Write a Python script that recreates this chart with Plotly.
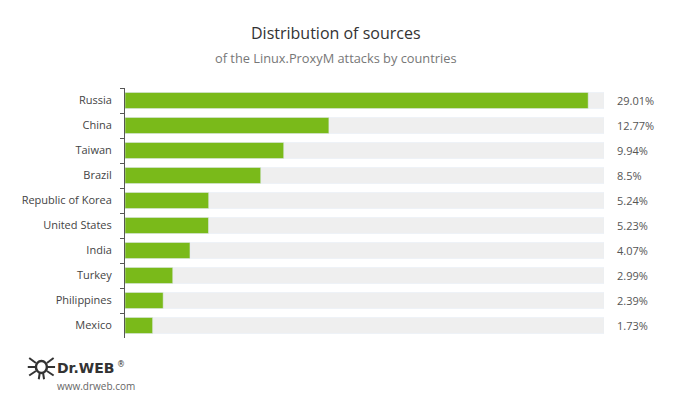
import plotly.graph_objects as go

countries = ["Russia", "China", "Taiwan", "Brazil", "Republic of Korea",
             "United States", "India", "Turkey", "Philippines", "Mexico"]
shares = [29.01, 12.77, 9.94, 8.5, 5.24, 5.23, 4.07, 2.99, 2.39, 1.73]
share_labels = ["29.01%", "12.77%", "9.94%", "8.5%", "5.24%",
                "5.23%", "4.07%", "2.99%", "2.39%", "1.73%"]
full_scale = 30

GREEN = '#7aba1a'
TRACK = '#efefef'
FONT = "Open Sans"
DARK = '#333333'

fig = go.Figure()

# grey track behind every bar
fig.add_trace(go.Bar(
    y=countries,
    x=[full_scale] * len(countries),
    orientation='h',
    marker_color=TRACK,
    width=0.64,
    hoverinfo='skip',
    showlegend=False
))

# the actual shares
fig.add_trace(go.Bar(
    y=countries,
    x=shares,
    orientation='h',
    marker_color=GREEN,
    width=0.64,
    showlegend=False
))

annots = []
# value labels right of the tracks
for c, lab in zip(countries, share_labels):
    annots.append(dict(
        x=full_scale, y=c, xref='x', yref='y',
        text=lab, showarrow=False,
        xanchor='left', xshift=11,
        font=dict(family=FONT, size=11, color='#555555')
    ))

# title + subtitle
annots.append(dict(
    x=0.441, y=1.22, xref='paper', yref='paper',
    text="Distribution of sources", showarrow=False,
    xanchor='center', yanchor='middle',
    font=dict(family=FONT, size=16, color=DARK)
))
annots.append(dict(
    x=0.441, y=1.12, xref='paper', yref='paper',
    text="of the Linux.ProxyM attacks by countries", showarrow=False,
    xanchor='center', yanchor='middle',
    font=dict(family=FONT, size=12.8, color='#777777')
))

# Dr.WEB logo text
annots.append(dict(
    xref='paper', yref='paper', x=-0.145, y=-0.156,
    xanchor='left', yanchor='bottom', showarrow=False, borderpad=0,
    text="<b>Dr.WEB</b>",
    font=dict(family="DejaVu Sans", size=14, color=DARK)
))
annots.append(dict(
    xref='paper', yref='paper', x=-0.019, y=-0.106,
    xanchor='left', yanchor='middle', showarrow=False, borderpad=0,
    text="®",
    font=dict(family="DejaVu Sans", size=8, color=DARK)
))
annots.append(dict(
    xref='paper', yref='paper', x=-0.145, y=-0.158,
    xanchor='left', yanchor='top', showarrow=False, borderpad=0,
    text="www.drweb.com",
    font=dict(family=FONT, size=10, color='#666666')
))

# rough spider icon next to the logo
shapes = [dict(
    type='circle', xref='paper', yref='paper',
    x0=-0.186, x1=-0.163, y0=-0.14, y1=-0.092,
    line=dict(color=DARK, width=2.5), fillcolor='white'
)]
for x0, x1, y0, y1 in [(-0.200, -0.186, -0.080, -0.100), (-0.149, -0.163, -0.080, -0.100),
                       (-0.203, -0.186, -0.116, -0.116), (-0.146, -0.163, -0.116, -0.116),
                       (-0.200, -0.186, -0.150, -0.132), (-0.149, -0.163, -0.150, -0.132),
                       (-0.180, -0.178, -0.165, -0.140), (-0.169, -0.171, -0.165, -0.140)]:
    shapes.append(dict(
        type='line', xref='paper', yref='paper',
        x0=x0, x1=x1, y0=y0, y1=y1,
        line=dict(color=DARK, width=2)
    ))

fig.update_layout(
    width=673, height=405,
    paper_bgcolor='white',
    plot_bgcolor='white',
    barmode='overlay',
    margin=dict(l=117, r=77, t=80, b=75),
    font=dict(family=FONT),
    xaxis=dict(
        range=[0, full_scale],
        visible=False,
        fixedrange=True
    ),
    yaxis=dict(
        autorange='reversed',
        showline=True, linecolor='#555555', linewidth=1,
        ticks='outside', tickson='boundaries', ticklen=4,
        tickcolor='#555555',
        tickfont=dict(family=FONT, size=11, color='#444444'),
        ticklabelstandoff=10,
        showgrid=False,
        fixedrange=True
    ),
    annotations=annots,
    shapes=shapes
)

fig.write_html("out.html")
